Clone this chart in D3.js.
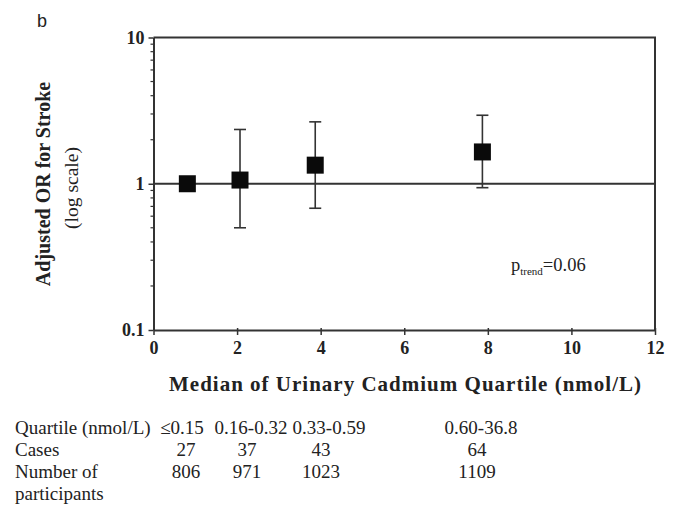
<!DOCTYPE html>
<html>
<head>
<meta charset="utf-8">
<script src="https://cdn.jsdelivr.net/npm/d3@7/dist/d3.min.js"></script>
<style>
  html, body { margin: 0; padding: 0; background: #fff; }
  svg { display: block; }
  text { font-family: "Liberation Serif", "Times New Roman", serif; fill: #222; }
</style>
</head>
<body>
<svg id="chart" width="677" height="509"></svg>
<script>
// Median urinary cadmium per quartile (nmol/L) and adjusted odds ratios with 95% CI
const medians   = [0.81, 2.07, 3.87, 7.87];
const oddsRatio = [1.00, 1.06, 1.34, 1.65];
const ciLower   = [1.00, 0.50, 0.68, 0.94];
const ciUpper   = [1.00, 2.35, 2.65, 2.94];

// Axis ticks
const xTicks = [0, 2, 4, 6, 8, 10, 12];
const yTicks = [0.1, 1, 10];
const yTickLabels = ["0.1", "1", "10"];

// Summary table below the chart
const quartileLabels = ["\u22640.15", "0.16-0.32", "0.33-0.59", "0.60-36.8"];
const cases          = [27, 37, 43, 64];
const participants   = [806, 971, 1023, 1109];
const rowLabels      = ["Quartile (nmol/L)", "Cases", ["Number of", "participants"]];

const pTrend = "0.06";

const svg = d3.select("#chart");
const ink = "#333";

const plot = { left: 153.5, right: 655, top: 37.5, bottom: 330 };

const x = d3.scaleLinear().domain([0, 12]).range([plot.left, plot.right]);
const y = d3.scaleLog().domain([0.1, 10]).range([plot.bottom, plot.top]);

// Panel letter
svg.append("text")
  .attr("x", 37).attr("y", 27)
  .style("font-family", "'Liberation Sans', Arial, sans-serif")
  .style("font-size", "18px")
  .text("b");

// Plot frame (top and right edges)
svg.append("path")
  .attr("d", `M${plot.left},${plot.top}H${plot.right}V${plot.bottom}`)
  .attr("fill", "none").attr("stroke", ink).attr("stroke-width", 2);

// Reference line at OR = 1
svg.append("line")
  .attr("x1", plot.left).attr("x2", plot.right)
  .attr("y1", y(1)).attr("y2", y(1))
  .attr("stroke", ink).attr("stroke-width", 2);

// Y axis (log) with major and minor ticks
const yAxis = d3.axisLeft(y)
  .tickValues(yTicks)
  .tickFormat((d, i) => yTickLabels[i])
  .tickSizeInner(5).tickSizeOuter(0).tickPadding(4);
const gy = svg.append("g").attr("transform", `translate(${plot.left},0)`).call(yAxis);
gy.select(".domain").attr("stroke", ink).attr("stroke-width", 2);
gy.selectAll(".tick line").attr("stroke", ink).attr("stroke-width", 1.5);
gy.selectAll(".tick text")
  .style("font-family", "'Liberation Serif', serif")
  .style("font-weight", "bold").style("font-size", "18px").attr("fill", "#222");

const minorY = [];
[0.1, 1].forEach(dec => { for (let k = 2; k <= 9; k++) minorY.push(dec * k); });
svg.append("g").selectAll("line").data(minorY).join("line")
  .attr("x1", plot.left - 3).attr("x2", plot.left)
  .attr("y1", d => y(d)).attr("y2", d => y(d))
  .attr("stroke", ink).attr("stroke-width", 1.2);

// X axis
const xAxis = d3.axisBottom(x)
  .tickValues(xTicks)
  .tickSizeInner(5).tickSizeOuter(0).tickPadding(6);
const gx = svg.append("g").attr("transform", `translate(0,${plot.bottom})`).call(xAxis);
gx.select(".domain").attr("stroke", ink).attr("stroke-width", 2);
gx.selectAll(".tick line").attr("stroke", ink).attr("stroke-width", 1.5).attr("y1", -2);
gx.selectAll(".tick text")
  .style("font-family", "'Liberation Serif', serif")
  .style("font-weight", "bold").style("font-size", "18px").attr("fill", "#222");

// Axis titles
svg.append("text")
  .attr("x", 405).attr("y", 391)
  .attr("text-anchor", "middle")
  .attr("textLength", 472).attr("lengthAdjust", "spacing")
  .style("font-weight", "bold").style("font-size", "21px")
  .text("Median of Urinary Cadmium Quartile (nmol/L)");

svg.append("text")
  .attr("transform", "translate(50,184) rotate(-90)")
  .attr("text-anchor", "middle")
  .style("font-weight", "bold").style("font-size", "20px")
  .text("Adjusted OR for Stroke");

svg.append("text")
  .attr("transform", "translate(78,188) rotate(-90)")
  .attr("text-anchor", "middle")
  .style("font-size", "19.5px").attr("fill", "#555")
  .text("(log scale)");

// Error bars
const cap = 6;
const bars = svg.append("g").attr("stroke", ink).attr("stroke-width", 1.6);
medians.forEach((m, i) => {
  if (ciUpper[i] === ciLower[i]) return;
  const cx = x(m);
  bars.append("line").attr("x1", cx).attr("x2", cx).attr("y1", y(ciLower[i])).attr("y2", y(ciUpper[i]));
  bars.append("line").attr("x1", cx - cap).attr("x2", cx + cap).attr("y1", y(ciUpper[i])).attr("y2", y(ciUpper[i]));
  bars.append("line").attr("x1", cx - cap).attr("x2", cx + cap).attr("y1", y(ciLower[i])).attr("y2", y(ciLower[i]));
});

// Point estimates
const sq = 17;
svg.append("g").selectAll("rect").data(medians).join("rect")
  .attr("x", d => x(d) - sq / 2)
  .attr("y", (d, i) => y(oddsRatio[i]) - sq / 2)
  .attr("width", sq).attr("height", sq)
  .attr("fill", "#0a0a0a");

// Trend p-value
const pt = svg.append("text").attr("x", 511).attr("y", 271).style("font-size", "18.5px");
pt.append("tspan").text("p");
pt.append("tspan").attr("dy", 4).style("font-size", "11px").text("trend");
pt.append("tspan").attr("dy", -4).text("=" + pTrend);

// Summary table
const rowY = [434, 456, 478];
const lineGap = 21.5;
const colX = [182, 251, 329, 481];
const numX = [186, 247, 321, 477];
const tbl = svg.append("g").style("font-size", "19px");

tbl.selectAll("text.row").data(rowLabels).join("text")
  .attr("class", "row")
  .attr("x", 15).attr("y", (d, i) => rowY[i])
  .each(function (d) {
    const lines = Array.isArray(d) ? d : [d];
    d3.select(this).selectAll("tspan").data(lines).join("tspan")
      .attr("x", 15).attr("dy", (l, j) => j === 0 ? 0 : lineGap)
      .text(l => l);
  });

tbl.selectAll("text.q").data(quartileLabels).join("text")
  .attr("class", "q")
  .attr("x", (d, i) => colX[i]).attr("y", rowY[0])
  .attr("text-anchor", "middle")
  .text(d => d);

tbl.selectAll("text.c").data(cases).join("text")
  .attr("class", "c")
  .attr("x", (d, i) => numX[i]).attr("y", rowY[1])
  .attr("text-anchor", "middle")
  .text(d => d);

tbl.selectAll("text.n").data(participants).join("text")
  .attr("class", "n")
  .attr("x", (d, i) => numX[i]).attr("y", rowY[2])
  .attr("text-anchor", "middle")
  .text(d => d);
</script>
</body>
</html>
